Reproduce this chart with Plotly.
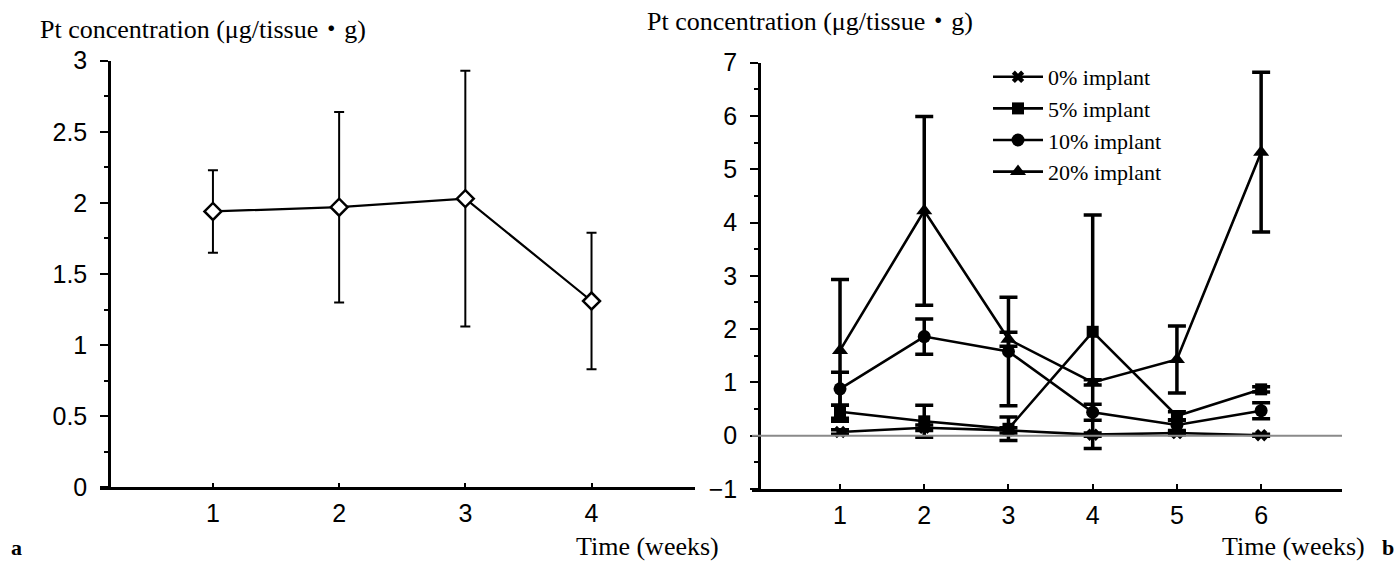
import plotly.graph_objects as go

W, H = 1396, 561

# ---- Panel a data ----
weeks_a = [1, 2, 3, 4]
pt_a = [1.94, 1.97, 2.03, 1.31]
err_a = [0.29, 0.67, 0.90, 0.48]

# ---- Panel b data ----
weeks_b = [1, 2, 3, 4, 5, 6]
names_b = ["0% implant", "5% implant", "10% implant", "20% implant"]
pt_0 = [0.07, 0.15, 0.10, 0.02, 0.05, 0.01]
err_0 = [0.04, 0.05, 0.05, 0.03, 0.03, 0.02]
pt_5 = [0.45, 0.27, 0.13, 1.95, 0.37, 0.87]
err_5 = [0.12, 0.30, 0.22, 2.19, 0.08, 0.05]
pt_10 = [0.88, 1.86, 1.58, 0.44, 0.20, 0.47]
err_10 = [0.31, 0.33, 1.02, 0.15, 0.10, 0.15]
pt_20 = [1.60, 4.22, 1.81, 1.00, 1.43, 5.32]
err_20 = [1.33, 1.77, 0.13, 0.05, 0.63, 1.50]
symbols_b = ["x", "square", "circle", "triangle-up"]
sizes_b = [11, 12, 13, 14]

yticks_a = [0, 0.5, 1, 1.5, 2, 2.5, 3]
yticks_b = [-1, 0, 1, 2, 3, 4, 5, 6, 7]

def px(v):
    return v / W

def py(v):
    return (H - v) / H

fig = go.Figure()

fig.add_trace(go.Scatter(
    x=weeks_a, y=pt_a, mode="lines+markers",
    line=dict(color="black", width=2.2),
    marker=dict(symbol="diamond", size=13, color="white",
                line=dict(color="black", width=2.5)),
    error_y=dict(type="data", array=err_a, color="black", thickness=2, width=5),
    xaxis="x", yaxis="y", showlegend=False,
))

for nm, yv, ev, sym, sz in zip(names_b, [pt_0, pt_5, pt_10, pt_20],
                               [err_0, err_5, err_10, err_20], symbols_b, sizes_b):
    fig.add_trace(go.Scatter(
        x=weeks_b, y=yv, mode="lines+markers", name=nm,
        line=dict(color="black", width=2.6),
        marker=dict(symbol=sym, size=sz, color="black",
                    line=dict(color="black", width=0)),
        error_y=dict(type="data", array=ev, color="black", thickness=3.5, width=9),
        xaxis="x2", yaxis="y2",
    ))

axis_common = dict(showgrid=False, zeroline=False, showline=True,
                   linecolor="black", linewidth=2.5, automargin=False,
                   tickfont=dict(family="Liberation Sans, Arial, sans-serif",
                                 size=25, color="black"))

overlay_common = dict(showgrid=False, zeroline=False, showline=False,
                      automargin=False, ticks="outside", ticklen=5,
                      tickwidth=2, tickcolor="black", showticklabels=False)

fig.update_layout(
    width=W, height=H, autosize=False,
    margin=dict(l=0, r=0, t=0, b=0, pad=0, autoexpand=False),
    paper_bgcolor="white", plot_bgcolor="white",
    xaxis=dict(**axis_common, domain=[px(100), px(695)],
               range=[0.105, 4.82], anchor="y",
               tickvals=weeks_a, ticks="inside", ticklen=5, tickwidth=2,
               tickcolor="black", ticklabelstandoff=2),
    xaxis3=dict(**overlay_common, overlaying="x", anchor="y",
                range=[0.105, 4.82], tickvals=weeks_a),
    yaxis=dict(**axis_common, domain=[0.1314, 0.8918], range=[0, 3],
               anchor="free", position=px(109),
               tickvals=yticks_a, ticks="outside", ticklen=8, tickwidth=2,
               tickcolor="black", ticklabelstandoff=8,
               minor=dict(dtick=0.25, ticks="outside", ticklen=4,
                          tickwidth=2, tickcolor="black", showgrid=False)),
    xaxis2=dict(**axis_common, domain=[px(752), px(1342)],
                range=[-0.045, 6.96], anchor="y2",
                tickvals=weeks_b, ticks="inside", ticklen=5, tickwidth=2,
                tickcolor="black", ticklabelstandoff=2),
    xaxis4=dict(**overlay_common, overlaying="x2", anchor="y2",
                range=[-0.045, 6.96], tickvals=weeks_b),
    yaxis2=dict(**axis_common, domain=[0.1283, 0.8884], range=[-1, 7],
                anchor="free", position=px(759),
                tickvals=yticks_b, ticks="outside", ticklen=8, tickwidth=2,
                tickcolor="black", ticklabelstandoff=8,
                minor=dict(dtick=0.5, ticks="outside", ticklen=4,
                           tickwidth=2, tickcolor="black", showgrid=False)),
    legend=dict(x=px(988), y=py(56), xanchor="left", yanchor="top",
                bgcolor="rgba(0,0,0,0)", itemwidth=50,
                font=dict(family="Liberation Serif, Times New Roman, serif",
                          size=22, color="black")),
)

# thin gray reference line at y = 0 in panel b
fig.add_shape(type="line", xref="x2 domain", yref="y2",
              x0=0, x1=1, y0=0, y1=0,
              line=dict(color="#8a8a8a", width=2))

serif = "Liberation Serif, Times New Roman, 'Noto Sans CJK JP', serif"
ann = [
    dict(text="Pt concentration (μg/tissue・g)", x=px(38), y=py(30),
         xanchor="left", yanchor="middle", size=26),
    dict(text="Pt concentration (μg/tissue・g)", x=px(645), y=py(22),
         xanchor="left", yanchor="middle", size=26),
    dict(text="Time (weeks)", x=px(647), y=py(546),
         xanchor="center", yanchor="middle", size=26),
    dict(text="Time (weeks)", x=px(1293), y=py(546),
         xanchor="center", yanchor="middle", size=26),
    dict(text="<b>a</b>", x=px(16), y=py(547),
         xanchor="center", yanchor="middle", size=22),
    dict(text="<b>b</b>", x=px(1388), y=py(547),
         xanchor="center", yanchor="middle", size=22),
]
for a in ann:
    fig.add_annotation(text=a["text"], x=a["x"], y=a["y"], xref="paper",
                       yref="paper", xanchor=a["xanchor"], yanchor=a["yanchor"],
                       showarrow=False,
                       font=dict(family=serif, size=a["size"], color="black"))

fig.write_html("out.html")
